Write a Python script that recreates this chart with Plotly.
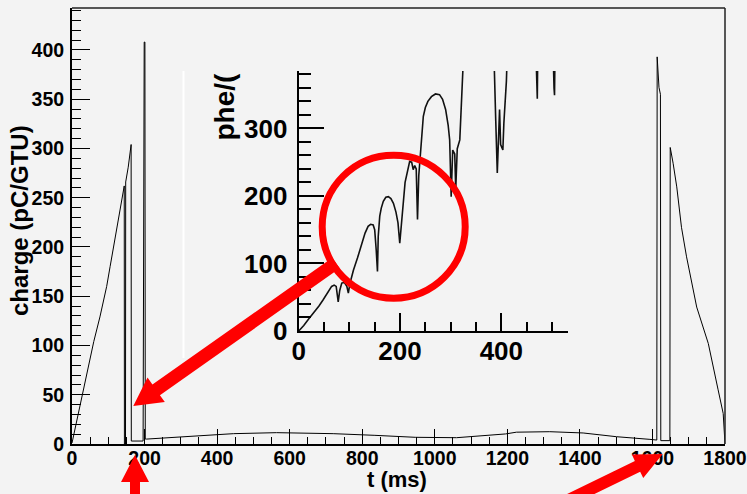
import math
import plotly.graph_objects as go

# ---------------- data ----------------
# main histogram: charge (pC/GTU) vs t (ms)
t_main = [0, 10, 22, 33, 45, 60, 77, 95.6, 105, 114, 132, 144, 144.5, 147.5, 148, 155, 163, 163.5,
          196, 197, 199, 201, 202,
          206, 243, 298, 353, 445, 564, 720, 835, 946, 1060, 1195, 1225, 1317, 1409, 1501,
          1593, 1612, 1613, 1618, 1622, 1623, 1648, 1649, 1657, 1667, 1680, 1694, 1722,
          1754, 1781, 1795, 1800]
q_main = [1, 18, 38, 60, 80, 104, 129, 160, 180, 200, 238, 262, 0, 0, 266, 281, 304, 3,
          3, 392, 408, 408, 5,
          5, 5.8, 6.8, 8.1, 10.5, 11.5, 10.5, 8.8, 6.8, 6.4, 10.2, 12, 12.5, 11.2, 7.4,
          4.7, 4, 393, 362, 355, 3.4, 3.4, 301, 285, 261, 220, 190, 139,
          102, 55, 31, 0]

# inset: phe/(GTU) vs t (ms)
t_inset = [0, 10, 20, 29, 40, 48, 57, 65, 70, 74, 78, 81, 85, 90, 95, 98, 101, 108, 116,
           124, 131, 137, 142, 147, 150, 153, 155.5, 157, 160, 163, 167, 172, 177, 182, 187,
           192, 196, 199.5, 202, 205, 210, 219, 223, 226, 229, 232, 234.5, 237, 239, 243,
           246, 250, 255, 262, 270, 278, 284, 290, 295, 298, 301, 304, 308, 310, 313, 318,
           321, 324, 330, 385, 389, 392, 396.5, 398.6, 403, 405, 410, 412,
           468, 470, 471, 472, 502, 504, 505, 506, 531]
phe_inset = [0, 8, 18, 26, 37, 46, 56, 66, 68, 66, 43, 60, 71, 72, 66, 56, 70, 90, 108,
             130, 145, 155, 158, 157, 150, 120, 88, 140, 170, 182, 192, 198, 199, 196, 189,
             176, 160, 130, 150, 184, 220, 251, 250, 239, 245, 240, 165, 230, 249, 290,
             318, 331, 340, 347, 351, 350, 343, 328, 305, 283, 199, 268, 262, 210, 270, 283,
             343, 385, 420, 420, 311, 234, 328, 276, 268, 308, 370, 420,
             420, 355, 344, 420, 420, 360, 349, 420, 420]

main_xticks_step = 200
main_yticks_step = 50
inset_xticks_step = 200
inset_yticks_step = 100

# ---------------- layout helpers (pixel -> paper) ----------------
W, H = 747, 494
L, R, T, B = 72, 725, 8, 444


def px(x):
    return (x - L) / (R - L)


def py(y):
    return (B - y) / (B - T)


BG = "#f3f3f3"
FONT = "Liberation Sans"

fig = go.Figure()
fig.add_trace(go.Scatter(x=t_main, y=q_main, mode="lines",
                         line=dict(color="black", width=1),
                         xaxis="x", yaxis="y", hoverinfo="skip", showlegend=False))
fig.add_trace(go.Scatter(x=t_inset, y=phe_inset, mode="lines",
                         line=dict(color="#111111", width=1.6),
                         xaxis="x2", yaxis="y2", hoverinfo="skip", showlegend=False))

tick_main = dict(family=FONT, size=19.5, color="black", weight="bold")
tick_inset = dict(family=FONT, size=26, color="black", weight="bold")

fig.update_layout(
    width=W, height=H, autosize=False,
    margin=dict(l=L, r=W - R, t=T, b=H - B, pad=0, autoexpand=False),
    paper_bgcolor=BG, plot_bgcolor=BG,
    showlegend=False,
    xaxis=dict(domain=[0, 1], range=[0, 1800], tick0=0, dtick=main_xticks_step,
               ticks="inside", ticklen=15, tickwidth=1, tickcolor="black",
               minor=dict(dtick=50, ticks="inside", ticklen=7, tickwidth=1, tickcolor="black"),
               showline=True, linewidth=2, linecolor="black",
               showgrid=False, zeroline=False, tickfont=tick_main,
               ticklabelstandoff=-4, automargin=False, fixedrange=True),
    yaxis=dict(domain=[0, 1], range=[0, 442.6], tick0=0, dtick=main_yticks_step,
               ticks="inside", ticklen=18, tickwidth=1, tickcolor="black",
               minor=dict(dtick=10, ticks="inside", ticklen=9, tickwidth=1, tickcolor="black"),
               showline=True, linewidth=2, linecolor="black",
               showgrid=False, zeroline=False, tickfont=tick_main,
               ticklabelstandoff=2, automargin=False, fixedrange=True),
    xaxis2=dict(domain=[px(298.7), px(567.7)], range=[0, 531], anchor="y2",
                tick0=0, dtick=inset_xticks_step,
                ticks="inside", ticklen=18, tickwidth=1.5, tickcolor="black",
                minor=dict(dtick=50, ticks="inside", ticklen=9, tickwidth=1.5, tickcolor="black"),
                showline=True, linewidth=2, linecolor="black",
                showgrid=False, zeroline=False, tickfont=tick_inset,
                ticklabelstandoff=-4, automargin=False, fixedrange=True),
    yaxis2=dict(domain=[py(331), py(71)], range=[0, 385], anchor="x2",
                tick0=0, dtick=inset_yticks_step,
                ticks="inside", ticklen=25, tickwidth=1.5, tickcolor="black",
                minor=dict(dtick=20, ticks="inside", ticklen=12, tickwidth=1.5, tickcolor="black"),
                showline=True, linewidth=2, linecolor="black",
                showgrid=False, zeroline=False, tickfont=tick_inset,
                ticklabelstandoff=4, automargin=False, fixedrange=True),
)

shapes = []
# frame top/right
shapes.append(dict(type="line", xref="paper", yref="paper", x0=0, x1=1, y0=1, y1=1,
                   line=dict(color="#222222", width=1.5)))
shapes.append(dict(type="line", xref="paper", yref="paper", x0=1, x1=1, y0=0, y1=1,
                   line=dict(color="#222222", width=1.5)))
# white edge of the pasted inset
shapes.append(dict(type="line", xref="paper", yref="paper", x0=px(183.5), x1=px(183.5),
                   y0=py(358), y1=py(71), line=dict(color="white", width=2), layer="below"))


def arrow_path(tip, tail, head_len, head_half, shaft_half):
    dx, dy = tail[0] - tip[0], tail[1] - tip[1]
    ln = math.hypot(dx, dy)
    ux, uy = dx / ln, dy / ln
    nx, ny = -uy, ux
    bx, by = tip[0] + head_len * ux, tip[1] + head_len * uy
    pts = [tip,
           (bx + head_half * nx, by + head_half * ny),
           (bx + shaft_half * nx, by + shaft_half * ny),
           (tail[0] + shaft_half * nx, tail[1] + shaft_half * ny),
           (tail[0] - shaft_half * nx, tail[1] - shaft_half * ny),
           (bx - shaft_half * nx, by - shaft_half * ny),
           (bx - head_half * nx, by - head_half * ny)]
    return "M " + " L ".join(f"{px(x):.5f},{py(y):.5f}" for x, y in pts) + " Z"


RED = "#ff0000"
for tip, tail, hl, hh, sh in [((133.3, 406), (336, 263), 28, 15, 6.5),
                              ((135, 455), (135, 520), 27, 14, 5),
                              ((662.7, 454), (548, 510), 28, 13, 6)]:
    shapes.append(dict(type="path", xref="paper", yref="paper",
                       path=arrow_path(tip, tail, hl, hh, sh),
                       fillcolor=RED, line=dict(width=0), layer="above"))

# red circle
cx, cy, rr = 393.7, 226.7, 71.5
shapes.append(dict(type="circle", xref="paper", yref="paper",
                   x0=px(cx - rr), x1=px(cx + rr), y0=py(cy + rr), y1=py(cy - rr),
                   line=dict(color=RED, width=7), fillcolor="rgba(0,0,0,0)", layer="above"))

fig.update_layout(shapes=shapes)

title_font = dict(family=FONT, size=24, color="black", weight="bold")
fig.add_annotation(text="charge (pC/GTU)", xref="paper", yref="paper", x=px(19), y=py(221),
                   textangle=-90, showarrow=False, xanchor="center", yanchor="middle",
                   font=title_font)
fig.add_annotation(text="t (ms)", xref="paper", yref="paper", x=px(396.5), y=py(479),
                   showarrow=False, xanchor="center", yanchor="middle",
                   font=dict(family=FONT, size=22, color="black", weight="bold"))
fig.add_annotation(text="phe/(", xref="paper", yref="paper", x=px(224), y=py(106.5),
                   textangle=-90, showarrow=False, xanchor="center", yanchor="middle",
                   font=dict(family=FONT, size=28, color="black", weight="bold"))

fig.write_html("out.html", config={"displayModeBar": False})
